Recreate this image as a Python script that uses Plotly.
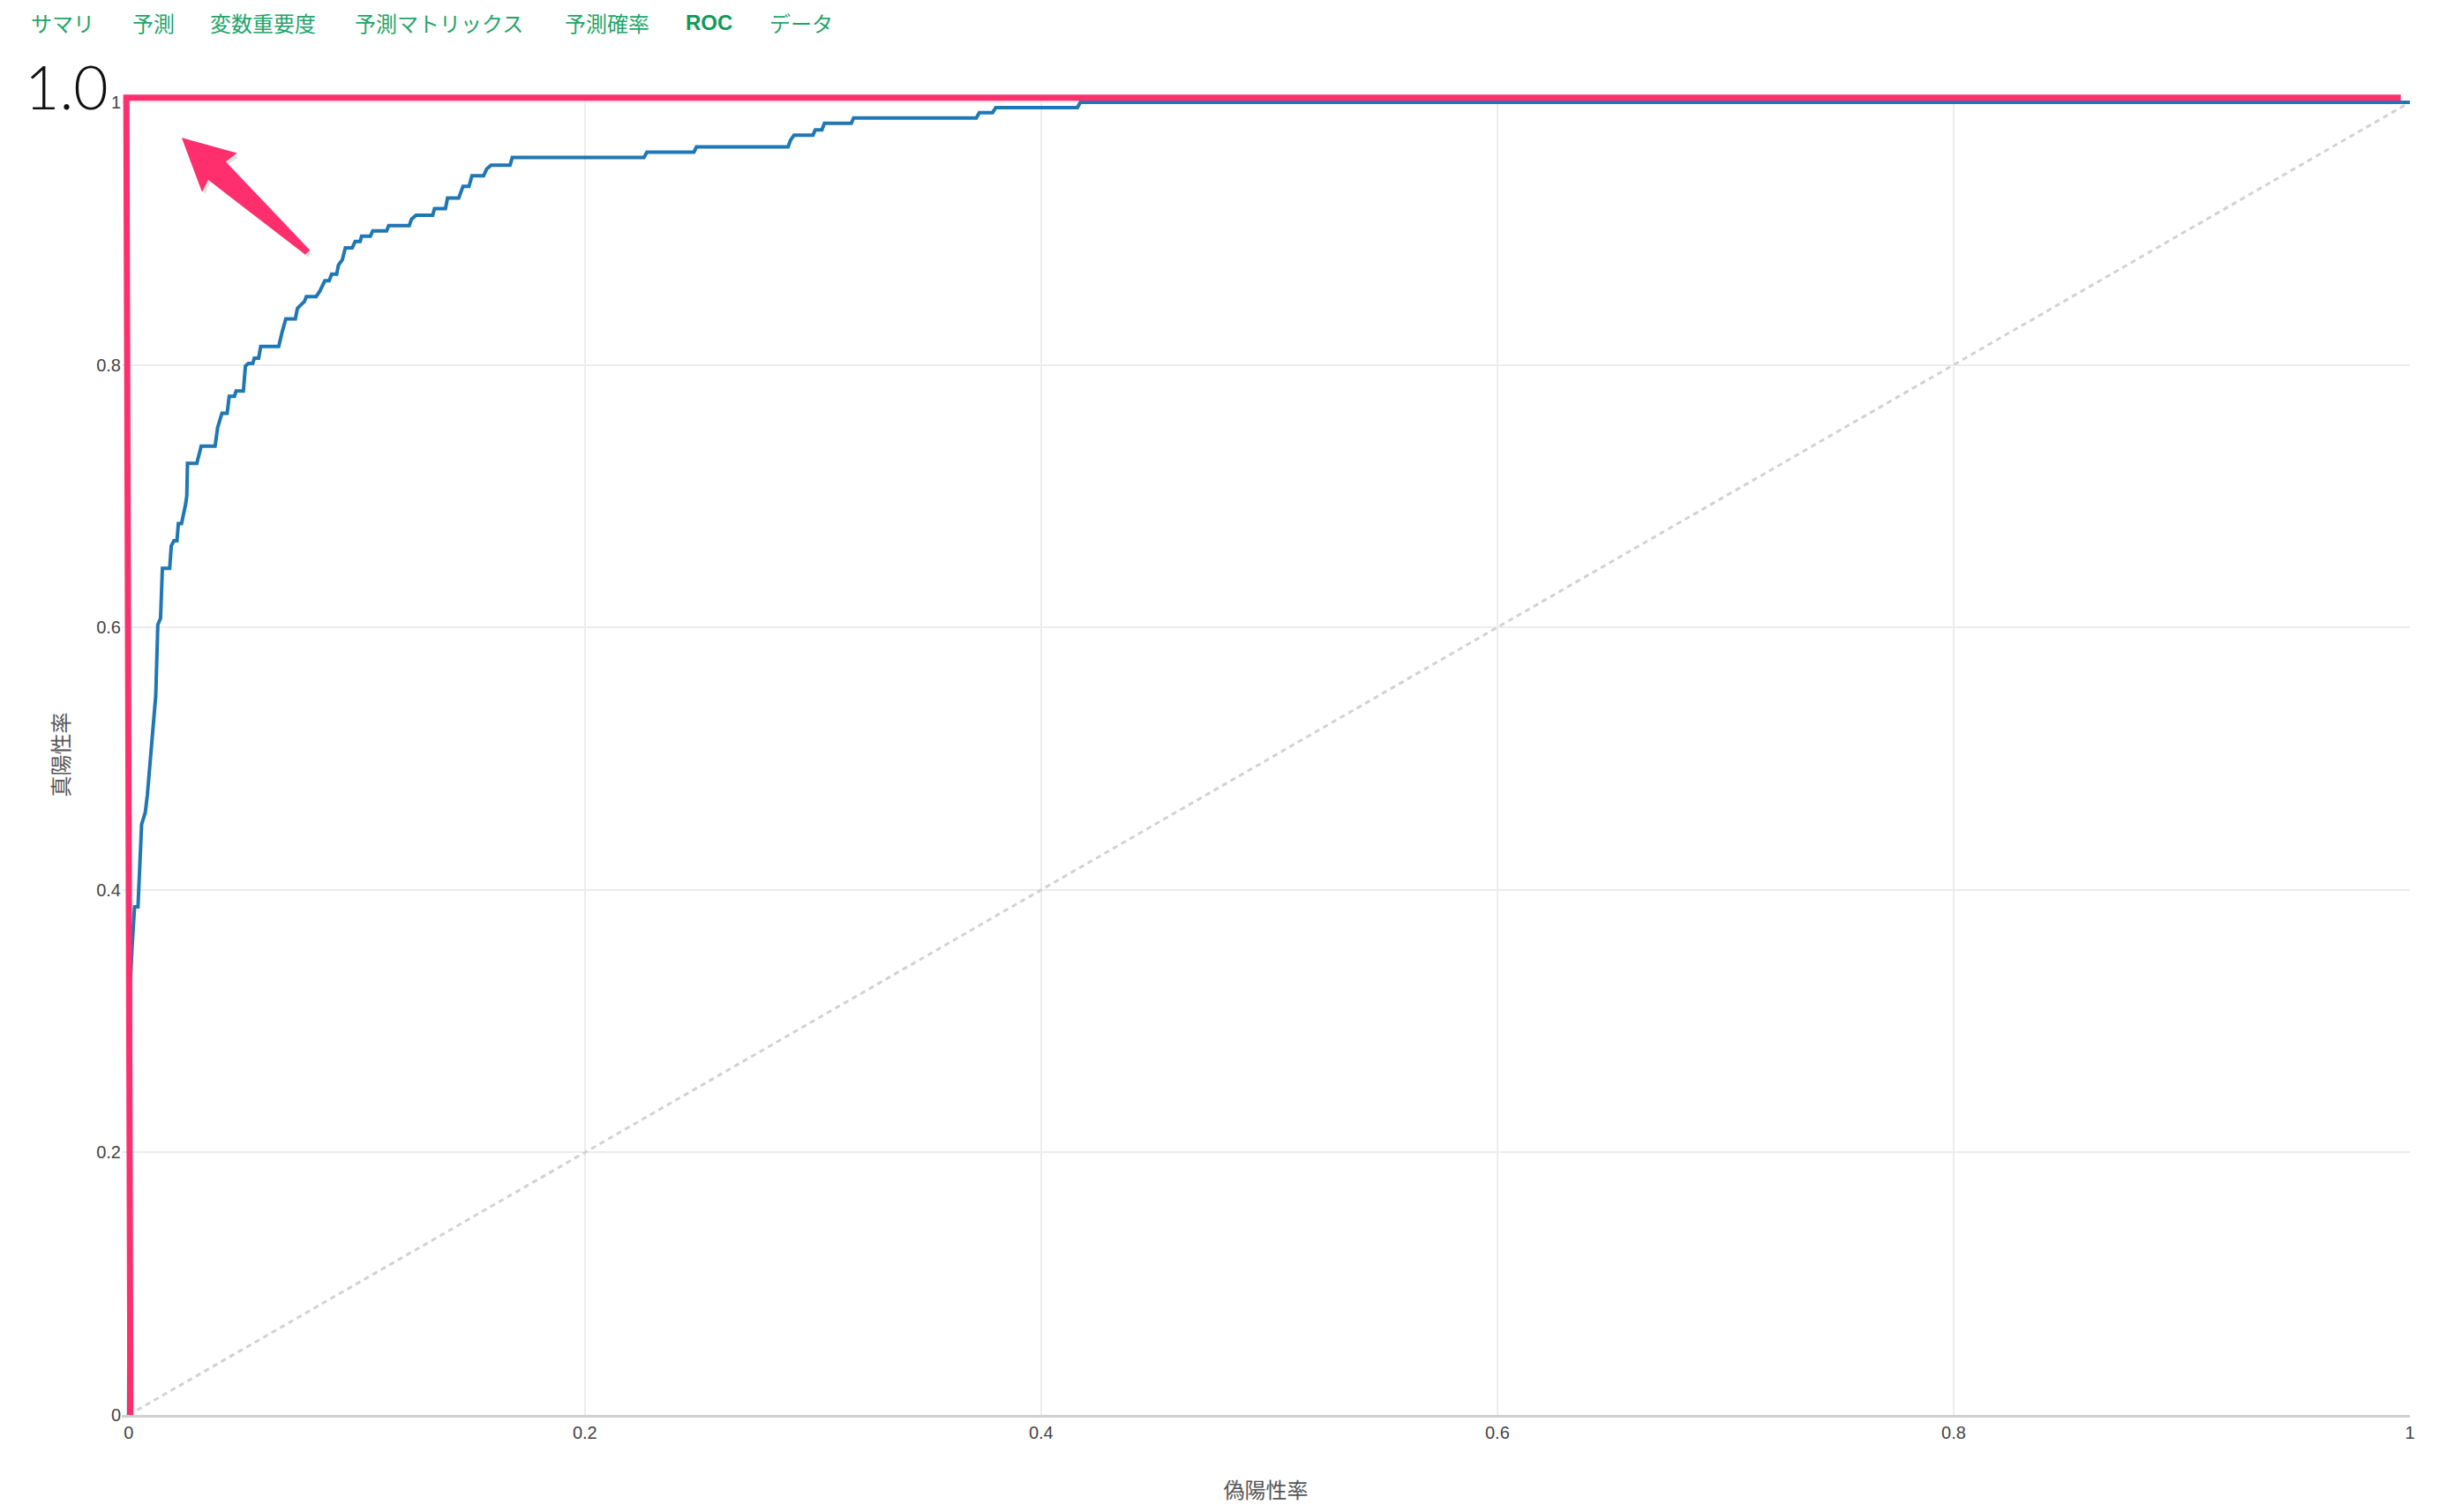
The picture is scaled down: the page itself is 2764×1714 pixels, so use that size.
import plotly.graph_objects as go

# ---------------- data ----------------
tabs = ["サマリ", "予測", "変数重要度", "予測マトリックス", "予測確率", "ROC", "データ"]
active_tab = "ROC"

fpr = [0.0, 0.0008, 0.0015, 0.0026, 0.0041, 0.0057, 0.0073, 0.0082, 0.0119, 0.0128,
       0.0140, 0.0148, 0.0180, 0.0187, 0.0199, 0.0212, 0.0218, 0.0232, 0.0250, 0.0255,
       0.0258, 0.0299, 0.0318, 0.0379, 0.0390, 0.0409, 0.0432, 0.0441, 0.0464, 0.0471,
       0.0503, 0.0512, 0.0525, 0.0544, 0.0551, 0.0570, 0.0579, 0.0658, 0.0673, 0.0689,
       0.0731, 0.0740, 0.0757, 0.0770, 0.0779, 0.0822, 0.0838, 0.0860, 0.0879, 0.0890,
       0.0912, 0.0920, 0.0937, 0.0950, 0.0980, 0.0993, 0.1015, 0.1021, 0.1060, 0.1070,
       0.1131, 0.1140, 0.1230, 0.1240, 0.1260, 0.1333, 0.1341, 0.1389, 0.1398, 0.1447,
       0.1466, 0.1492, 0.1505, 0.1556, 0.1569, 0.1589, 0.1672, 0.1682, 0.2259, 0.2272,
       0.2478, 0.2489, 0.2891, 0.2901, 0.2917, 0.3000, 0.3010, 0.3039, 0.3050, 0.3168,
       0.3178, 0.3716, 0.3729, 0.3787, 0.3801, 0.4159, 0.4172, 1.0]
tpr = [0.0, 0.330, 0.356, 0.387, 0.387, 0.450, 0.459, 0.472, 0.548, 0.602,
       0.607, 0.645, 0.645, 0.662, 0.666, 0.666, 0.679, 0.679, 0.694, 0.700,
       0.725, 0.725, 0.738, 0.738, 0.752, 0.763, 0.763, 0.776, 0.776, 0.780,
       0.780, 0.799, 0.801, 0.801, 0.805, 0.805, 0.814, 0.814, 0.825, 0.835,
       0.835, 0.843, 0.846, 0.848, 0.852, 0.852, 0.856, 0.864, 0.864, 0.869,
       0.869, 0.876, 0.880, 0.889, 0.889, 0.894, 0.894, 0.898, 0.898, 0.902,
       0.902, 0.906, 0.906, 0.911, 0.914, 0.914, 0.919, 0.919, 0.927, 0.927,
       0.936, 0.936, 0.944, 0.944, 0.949, 0.952, 0.952, 0.958, 0.958, 0.962,
       0.962, 0.966, 0.966, 0.971, 0.975, 0.975, 0.979, 0.979, 0.984, 0.984,
       0.988, 0.988, 0.992, 0.992, 0.996, 0.996, 1.0, 1.0]

diag_x = [0, 1]
diag_y = [0, 1]

# hand-drawn highlight (perfect-classifier "L")
pink_x = [0.0008, -0.0010, 0.9960]
pink_y = [0.0, 1.0035, 1.0035]

x_ticks = [0, 0.2, 0.4, 0.6, 0.8, 1]
y_ticks = [0, 0.2, 0.4, 0.6, 0.8, 1]
x_title = "偽陽性率"
y_title = "真陽性率"
big_label = "1.0"

# ---------------- geometry / styling ----------------
FIG_W, FIG_H = 2764, 1714
X0_PX, X1_PX = 146, 2731
Y0_PX, Y1_PX = 1604.5, 116
XMIN, XMAX = -0.003, 1.0
YMIN, YMAX = 0.0, 1.006

ppx = X1_PX - X0_PX
ppy = Y0_PX - Y1_PX
ml = X0_PX + XMIN * ppx
mr = FIG_W - (X0_PX + XMAX * ppx)
mt = Y0_PX - YMAX * ppy
mb = FIG_H - Y0_PX
PW = FIG_W - ml - mr
PH = FIG_H - mt - mb


def paper_x(px):
    return (px - ml) / PW


def paper_y(py):
    return (FIG_H - mb - py) / PH


PINK = "#ff2f6e"
BLUE = "#1f77b4"
GREEN = "#1fa56a"
GREEN_ACTIVE = "#0f9a5a"
TICK_FONT = "Helvetica Neue, Helvetica, Liberation Sans, Arial, sans-serif"
CJK_FONT = "Noto Sans CJK JP, Noto Sans, sans-serif"

fig = go.Figure()
fig.add_trace(go.Scatter(x=diag_x, y=diag_y, mode="lines",
                         line=dict(color="#d2d2d2", width=3, dash="6px,5px"),
                         hoverinfo="skip", showlegend=False))
fig.add_trace(go.Scatter(x=fpr, y=tpr, mode="lines",
                         line=dict(color=BLUE, width=4),
                         showlegend=False))
fig.add_trace(go.Scatter(x=pink_x, y=pink_y, mode="lines",
                         line=dict(color=PINK, width=7),
                         hoverinfo="skip", showlegend=False))

# tabs
tab_left_px = [33, 148, 236, 400.5, 638, 775, 870.5]
annotations = []
for name, lx in zip(tabs, tab_left_px):
    active = name == active_tab
    annotations.append(dict(
        text=name, xref="paper", yref="paper", x=paper_x(lx), y=paper_y(26),
        xanchor="left", yanchor="middle", showarrow=False,
        font=dict(family=("Liberation Sans, Arial" if active else CJK_FONT),
                  size=24, color=(GREEN_ACTIVE if active else GREEN),
                  weight=("bold" if active else "normal"))))

# big "1.0"
annotations.append(dict(
    text=big_label, xref="paper", yref="paper", x=paper_x(76), y=paper_y(98),
    xanchor="center", yanchor="middle", showarrow=False,
    font=dict(family="Lato, Helvetica Neue, sans-serif", size=68, color="#111111",
              weight=300)))

# arrow (pixel-sized path anchored at its tip)
tip_x = (207.3 - X0_PX) / ppx
tip_y = (Y0_PX - 157.3) / ppy
arrow_path = "M0,0 L60,-16.7 L47.7,-26 L143.2,-126.4 L138.8,-130.4 L28.7,-45.4 L22,-58.7 Z"
shadow_path = "M3,-4 L63,-20.7 L50.7,-30 L146.2,-130.4 L141.8,-134.4 L31.7,-49.4 L25,-62.7 Z"
shapes = [
    dict(type="path", xref="x", yref="y", xsizemode="pixel", ysizemode="pixel",
         xanchor=tip_x, yanchor=tip_y, path=shadow_path,
         fillcolor="rgba(0,0,0,0.12)", line=dict(width=0), layer="above"),
    dict(type="path", xref="x", yref="y", xsizemode="pixel", ysizemode="pixel",
         xanchor=tip_x, yanchor=tip_y, path=arrow_path,
         fillcolor=PINK, line=dict(color=PINK, width=1.5), layer="above"),
]

fig.update_layout(
    width=FIG_W, height=FIG_H, autosize=False,
    margin=dict(l=ml, r=mr, t=mt, b=mb, pad=0),
    paper_bgcolor="white", plot_bgcolor="white",
    showlegend=False,
    annotations=annotations,
    shapes=shapes,
    xaxis=dict(range=[XMIN, XMAX], tickvals=x_ticks, showgrid=True,
               gridcolor="#ececec", gridwidth=2, zeroline=False,
               showline=True, linecolor="#cfcfcf", linewidth=3,
               ticks="", tickfont=dict(family=TICK_FONT, size=20, color="#444444"),
               title=dict(text=x_title, standoff=48,
                          font=dict(family=CJK_FONT, size=24, color="#555555"))),
    yaxis=dict(range=[YMIN, YMAX], tickvals=y_ticks, showgrid=True,
               gridcolor="#ececec", gridwidth=2, zeroline=False,
               showline=False, ticks="",
               tickfont=dict(family=TICK_FONT, size=20, color="#444444"),
               title=dict(text=y_title, standoff=23,
                          font=dict(family=CJK_FONT, size=24, color="#555555"))),
)

fig.write_html("out.html", config={"displayModeBar": False},
               post_script="document.body.style.margin='0';")
